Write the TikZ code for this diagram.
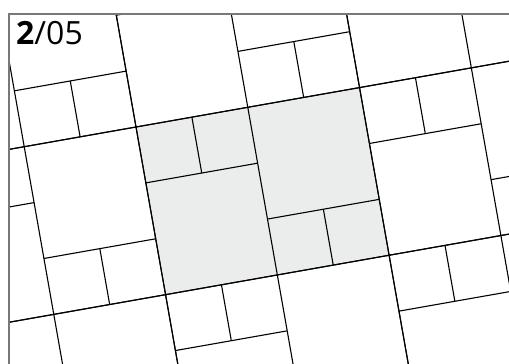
\documentclass[tikz,border=0pt]{standalone}
\usepackage{fontspec}
\setmainfont{Open Sans}
\definecolor{tileshade}{RGB}{235,237,236}
\definecolor{frame}{RGB}{120,120,120}

\begin{document}
\begin{tikzpicture}[x=1pt, y=1pt,
    tile/.style={line width=1.1pt, black},
    frameline/.style={line width=1.2pt, frame}]
    \useasboundingbox (0,0) rectangle (509,-364);

    \begin{scope}
    \clip (9,-14) rectangle (509,-364);
    % rotated lattice, one block = 2 x 1.5 squares
    \begin{scope}[shift={(136,-127)}, rotate=10, scale=113.5]
        \fill [tileshade] (0,0) rectangle (2,-1.5);
        \foreach \i in {-1,...,2} {
            \foreach \j in {-1,...,1} {
                \begin{scope}[shift={(2*\i,-1.5*\j)}]
                    \draw [tile] (0,0) rectangle (2,-1.5);
                    \draw [tile] (1,0) -- (1,-1.5);
                    % left column: two small squares above a big one
                    \draw [tile] (0,-0.5) -- (1,-0.5);
                    \draw [tile] (0.5,0) -- (0.5,-0.5);
                    % right column: big square above two small ones
                    \draw [tile] (1,-1) -- (2,-1);
                    \draw [tile] (1.5,-1) -- (1.5,-1.5);
                \end{scope}
            }
        }
    \end{scope}
    \end{scope}

    \draw [frameline] (9,-364) -- (9,-14) -- (509,-14);

    \node [anchor=base west, inner sep=0pt, font=\fontsize{32}{32}\selectfont] (label) at (16,-45) {\textbf{2}/05};
\end{tikzpicture}
\end{document}
